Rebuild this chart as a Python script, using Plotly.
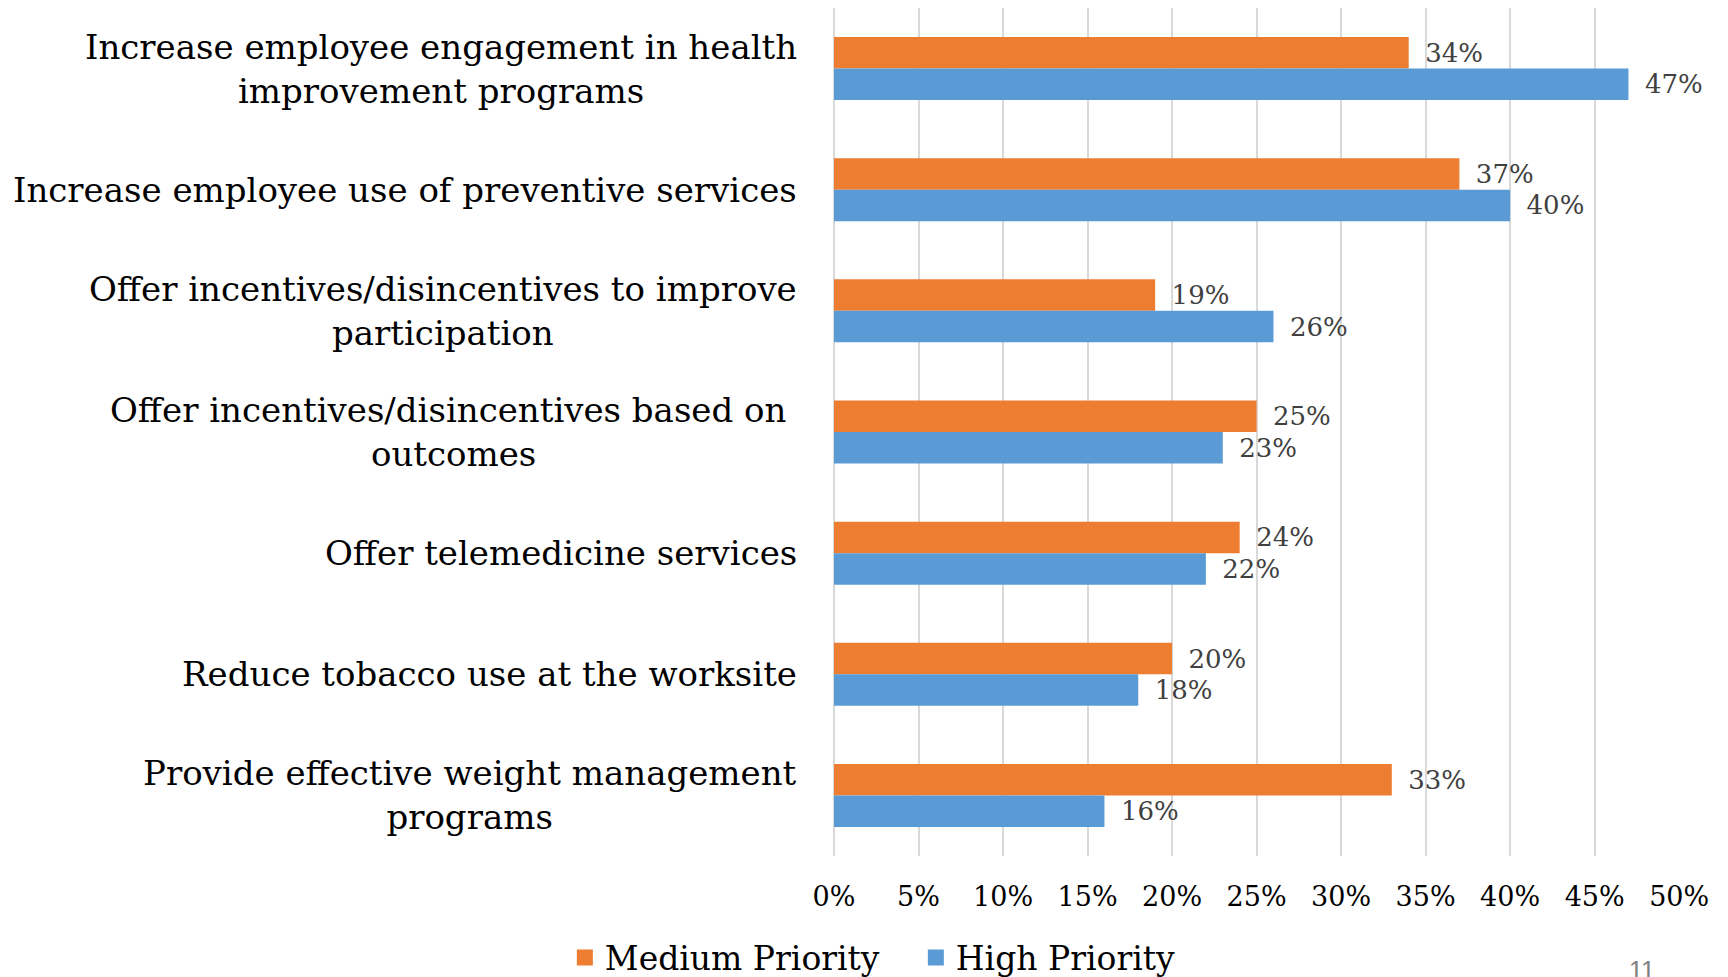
import plotly.graph_objects as go

# Survey categories (top to bottom) and priority shares in percent
categories = [
    "Increase employee engagement in health<br>improvement programs",
    "Increase employee use of preventive services",
    "Offer incentives/disincentives to improve<br>participation",
    "Offer incentives/disincentives based on\u00a0<br>outcomes",
    "Offer telemedicine services",
    "Reduce tobacco use at the worksite",
    "Provide effective weight management<br>programs",
]
medium_priority = [34, 37, 19, 25, 24, 20, 33]
high_priority = [47, 40, 26, 23, 22, 18, 16]
x_ticks = [0, 5, 10, 15, 20, 25, 30, 35, 40, 45, 50]

SERIF = "DejaVu Serif"
ORANGE = "#ED7D31"
BLUE = "#5B9BD5"
LABEL_GRAY = "#404040"


def pct_labels(values):
    return [f"{v}%" for v in values]


series = [
    ("Medium Priority", medium_priority, ORANGE),
    ("High Priority", high_priority, BLUE),
]

fig = go.Figure()
for name, values, color in series:
    fig.add_trace(go.Bar(
        name=name, y=categories, x=values, orientation="h",
        marker=dict(color=color, line=dict(width=0)),
        text=pct_labels(values), texttemplate="\u00a0\u2009%{text}",
        textposition="outside",
        textfont=dict(family=SERIF, size=26, color=LABEL_GRAY),
        cliponaxis=False, showlegend=False,
    ))

# Legend keys drawn as larger square swatches
for name, _, color in series:
    fig.add_trace(go.Scatter(
        name=name, x=[None], y=[None], mode="markers",
        marker=dict(symbol="square", size=16, color=color),
        showlegend=True, hoverinfo="skip",
    ))

# Category labels: right-aligned block, lines centred within it
for cat in categories:
    fig.add_annotation(
        x=-0.041, xref="paper", y=cat, yref="y",
        text=cat, showarrow=False, xanchor="right", yanchor="middle",
        align="center", font=dict(family=SERIF, size=34, color="#000000"),
    )

# Page number in the corner
fig.add_annotation(
    x=0.955, xref="paper", y=-0.135, yref="paper", text="11",
    showarrow=False, xanchor="center", yanchor="middle",
    font=dict(family="Liberation Sans", size=25, color="#808080"),
)

fig.update_layout(
    width=1728, height=977,
    margin=dict(l=834, r=48, t=8, b=121),
    plot_bgcolor="white", paper_bgcolor="white",
    barmode="group", bargap=0.48, bargroupgap=0,
    legend=dict(
        orientation="h", xref="container", yref="container",
        x=0.53, xanchor="center", y=0.02, yanchor="middle",
        font=dict(family=SERIF, size=33, color="#000000"),
        traceorder="normal", entrywidth=306, itemsizing="trace",
    ),
    xaxis=dict(
        range=[0, 50.05], tickvals=x_ticks, ticktext=pct_labels(x_ticks),
        showgrid=True, gridcolor="#D9D9D9", gridwidth=1.5,
        zeroline=True, zerolinecolor="#D9D9D9", zerolinewidth=1.5,
        showline=False, ticks="", ticklabelstandoff=22,
        tickfont=dict(family=SERIF, size=27, color="#000000"),
    ),
    yaxis=dict(
        autorange="reversed", showticklabels=False, showgrid=False,
        zeroline=False, showline=False, ticks="",
    ),
)

fig.write_html("out.html")
